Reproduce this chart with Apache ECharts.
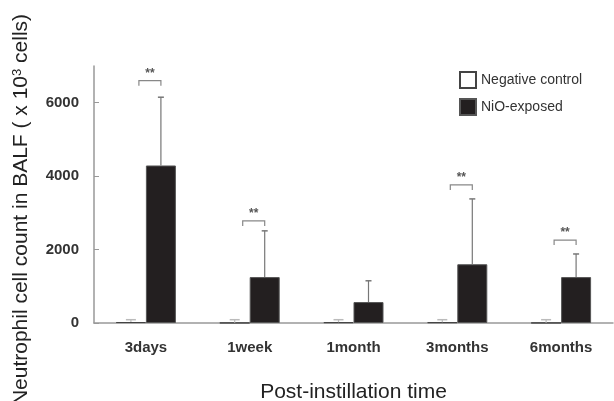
<!DOCTYPE html>
<html>
<head>
<meta charset="utf-8">
<script src="https://cdn.jsdelivr.net/npm/echarts@6/dist/echarts.min.js"></script>
<style>html,body{margin:0;padding:0;background:#fff}#c{width:614px;height:401px}</style>
</head>
<body>
<div id="c"></div>
<script>
var categories = ['3days', '1week', '1month', '3months', '6months'];
var controlMean = [25, 5, 20, 20, 5];
var controlSD = [65, 85, 70, 70, 85];
var nioMean = [4290, 1250, 570, 1600, 1250];
var nioSD = [1860, 1260, 580, 1780, 630];
var sigLevel = [6600, 2780, null, 3760, 2260];
var yTicks = [0, 2000, 4000, 6000];

var FONT = 'Liberation Sans, Arial, sans-serif';
var chart = echarts.init(document.getElementById('c'), null, {renderer: 'canvas'});

var errData = [];
categories.forEach(function (c, i) {
  errData.push([i, controlMean[i], controlSD[i], 0]);
  errData.push([i, nioMean[i], nioSD[i], 1]);
});
var sigData = [];
categories.forEach(function (c, i) {
  if (sigLevel[i] != null) sigData.push([i, sigLevel[i]]);
});

var BW = 30;

chart.setOption({
  animation: false,
  backgroundColor: '#fff',
  grid: {left: 94, right: 1, top: 66, bottom: 78, containLabel: false, outerBoundsMode: 'none'},
  legend: {
    orient: 'vertical', left: 454, top: 66,
    itemWidth: 16, itemHeight: 16, itemGap: 9,
    data: ['Negative control', 'NiO-exposed'],
    textStyle: {fontFamily: FONT, fontSize: 14, color: '#333'},
    icon: 'rect'
  },
  xAxis: {
    type: 'category', data: categories,
    name: 'Post-instillation time', nameLocation: 'middle', nameGap: 59,
    nameTextStyle: {fontFamily: FONT, fontSize: 21, color: '#222'},
    axisLine: {lineStyle: {color: '#999', width: 1.5}},
    axisTick: {inside: true, length: 4, lineStyle: {color: '#999'}},
    axisLabel: {fontFamily: FONT, fontSize: 15, fontWeight: 'bold', color: '#333', margin: 17}
  },
  yAxis: {
    type: 'value', min: 0, max: 7000, interval: 2000,
    name: '{n|Neutrophil cell count in BALF ( x 10}{s|3}{n| cells)}',
    nameLocation: 'middle', nameGap: 62, nameRotate: 90,
    nameTextStyle: {
      padding: [0, 30, 0, 0],
      rich: {
        n: {fontFamily: FONT, fontSize: 21, color: '#222'},
        s: {fontFamily: FONT, fontSize: 13, color: '#222', verticalAlign: 'top', padding: [0, 0, 8, 0]}
      }
    },
    axisLine: {show: true, lineStyle: {color: '#999', width: 1.5}},
    axisTick: {show: true, inside: true, length: 5, lineStyle: {color: '#999'}, customValues: yTicks},
    axisLabel: {fontFamily: FONT, fontSize: 15, fontWeight: 'bold', color: '#333', margin: 15, customValues: yTicks,
      formatter: function (v) { return String(v); }},
    splitLine: {show: false}
  },
  series: [
    {
      name: 'Negative control', type: 'bar', data: controlMean, barWidth: BW, barGap: 0,
      itemStyle: {color: '#fff', borderColor: '#444', borderWidth: 1}
    },
    {
      name: 'NiO-exposed', type: 'bar', data: nioMean, barWidth: BW, barGap: 0,
      itemStyle: {color: '#231f20', borderColor: '#555', borderWidth: 1}
    },
    {
      type: 'custom', data: errData, z: 5,
      renderItem: function (params, api) {
        var i = api.value(0), m = api.value(1), sd = api.value(2), s = api.value(3);
        var base = api.coord([i, m]);
        var top = api.coord([i, m + sd]);
        var x = base[0] + (s === 0 ? -BW / 2 : BW / 2);
        var cap = s === 0 ? 5 : 3;
        var col = s === 0 ? '#bbb' : '#777';
        return {
          type: 'group',
          children: [
            {type: 'line', shape: {x1: x, y1: base[1], x2: x, y2: top[1]}, style: {stroke: col, lineWidth: 1.2}},
            {type: 'line', shape: {x1: x - cap, y1: top[1], x2: x + cap, y2: top[1]}, style: {stroke: col, lineWidth: 1.5}}
          ]
        };
      }
    },
    {
      type: 'custom', data: sigData, z: 5,
      renderItem: function (params, api) {
        var p = api.coord([api.value(0), api.value(1)]);
        var x1 = p[0] - BW / 2 + 8, x2 = p[0] + BW / 2;
        var y = p[1];
        return {
          type: 'group',
          children: [
            {type: 'polyline', shape: {points: [[x1, y + 5], [x1, y], [x2, y], [x2, y + 5]]}, style: {stroke: '#888', lineWidth: 1.2, fill: null}},
            {type: 'text', style: {text: '**', x: (x1 + x2) / 2, y: y - 1, align: 'center', verticalAlign: 'bottom', fontFamily: FONT, fontSize: 12, fontWeight: 'bold', fill: '#555'}}
          ]
        };
      }
    }
  ]
});
</script>
</body>
</html>
